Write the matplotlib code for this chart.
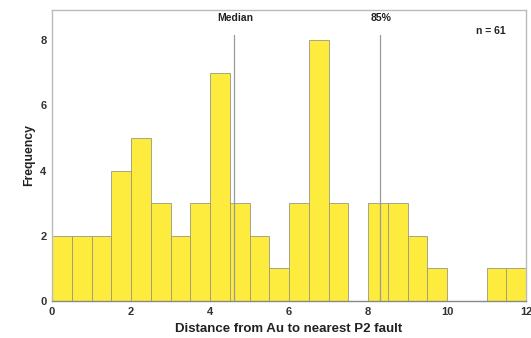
import matplotlib.pyplot as plt
import numpy as np

# histogram of distances, bin width 0.5 km
bin_edges = [0.0, 0.5, 1.0, 1.5, 2.0, 2.5, 3.0, 3.5, 4.0, 4.5, 5.0, 5.5, 6.0,
             6.5, 7.0, 7.5, 8.0, 8.5, 9.0, 9.5, 10.0, 10.5, 11.0, 11.5, 12.0]
counts = [2, 2, 2, 4, 5, 3, 2, 3, 7, 3, 2, 1, 3, 8, 3, 0, 3, 3, 2, 1, 0, 0, 1, 1]
median_val = 4.61
p85_val = 8.31
n_total = 61

plt.rcParams['font.family'] = ['Liberation Sans', 'DejaVu Sans']
plt.rcParams['font.weight'] = 'bold'

fig = plt.figure(figsize=(5.31, 3.38), dpi=100)
ax = fig.add_axes([52 / 531, 37 / 338, 474 / 531, 291 / 338])

left = np.array(bin_edges[:-1])
widths = np.diff(bin_edges)
ax.bar(left, counts, width=widths, align='edge', color='#FDEB3D',
       edgecolor='#9a9a80', linewidth=0.6, zorder=2)

for xv, lab in [(median_val, 'Median'), (p85_val, '85%')]:
    ax.plot([xv, xv], [0, 8.15], color='#9a9a9a', linewidth=0.9, zorder=3)
    ax.text(xv + 0.03, 8.68, lab, ha='center', va='center', fontsize=7.5,
            fontweight='bold', color='#222222')
ax.text(11.1, 8.3, 'n = %d' % n_total, ha='center', va='center', fontsize=7.5,
        fontweight='bold', color='#222222')

ax.set_xlim(0, 12)
ax.set_ylim(0, 8.93)
ax.set_xticks([0, 2, 4, 6, 8, 10, 12])
ax.set_yticks([0, 2, 4, 6, 8])
ax.tick_params(length=0, labelsize=8, colors='#333333', pad=4)
for lbl in ax.get_xticklabels() + ax.get_yticklabels():
    lbl.set_fontweight('bold')

for side in ['top', 'right', 'left', 'bottom']:
    ax.spines[side].set_color('#bbbbbb')
    ax.spines[side].set_linewidth(1.0)
ax.spines['bottom'].set_color('#888888')

ax.set_xlabel('Distance from Au to nearest P2 fault', fontsize=9.5,
              fontweight='bold', color='#222222', labelpad=5)
ax.set_ylabel('Frequency', fontsize=8.8, fontweight='bold', color='#222222',
              labelpad=4)

fig.savefig('out.png', dpi=100)
